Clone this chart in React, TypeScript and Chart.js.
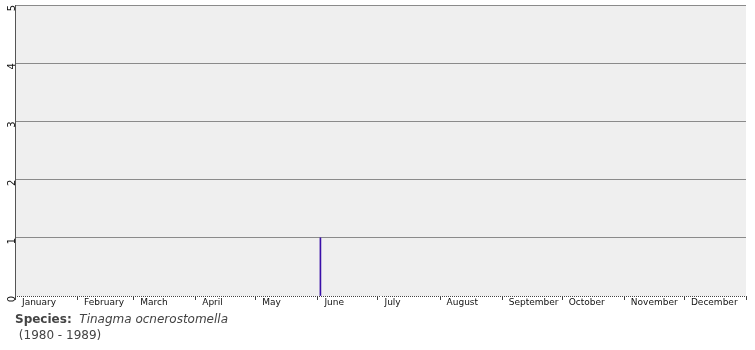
import React, { useEffect, useRef } from "react";
import { Chart, registerables } from "chart.js";

Chart.register(...registerables);

const monthNames = ["January", "February", "March", "April", "May", "June", "July", "August", "September", "October", "November", "December"];
const monthLengths = [31, 28, 31, 30, 31, 30, 31, 31, 30, 31, 30, 31];
// observation day-of-year (0-based) and counts
const observationDays = [152];
const observationCounts = [1];
const yTicks = [0, 1, 2, 3, 4, 5];
const speciesName = "Tinagma ocnerostomella";
const yearRange = "(1980 - 1989)";

const monthStarts: number[] = [];
{
  let acc = 0;
  for (const len of monthLengths) {
    monthStarts.push(acc);
    acc += len;
  }
}
const totalDays = monthLengths.reduce((a, b) => a + b, 0);

const bgPlugin = {
  id: "bgPlugin",
  beforeDraw(chart: any) {
    const { ctx, chartArea } = chart;
    ctx.save();
    ctx.fillStyle = "#efefef";
    ctx.fillRect(chartArea.left, chartArea.top, chartArea.right - chartArea.left, chartArea.bottom - chartArea.top);
    ctx.restore();
  },
  afterDraw(chart: any) {
    const { ctx, chartArea } = chart;
    const x = chart.scales.x;
    ctx.save();
    ctx.fillStyle = "#444";
    for (let d = 0; d <= totalDays; d++) {
      const px = Math.round(x.getPixelForValue(d));
      const isMonth = monthStarts.includes(d) || d === totalDays;
      ctx.fillRect(px, chartArea.bottom, 1, isMonth ? 4 : 1);
    }
    ctx.restore();
  },
};

export default function App() {
  const ref = useRef<HTMLCanvasElement | null>(null);
  useEffect(() => {
    document.body.style.margin = "0";
    const data = observationDays.map((d, i) => ({ x: d + 0.5, y: observationCounts[i] }));
    const chart = new Chart(ref.current!, {
      type: "bar",
      data: {
        datasets: [
          {
            data,
            backgroundColor: "#3a0fa8",
            borderWidth: 0,
            barThickness: 1,
          } as any,
        ],
      },
      options: {
        animation: false,
        responsive: false,
        maintainAspectRatio: false,
        layout: { padding: { left: 0, right: 9, top: 5, bottom: 0 } },
        plugins: { legend: { display: false }, tooltip: { enabled: false } },
        scales: {
          x: {
            type: "linear",
            min: 0,
            max: totalDays,
            offset: false,
            afterBuildTicks(scale: any) {
              scale.ticks = monthStarts.map((v) => ({ value: v }));
            },
            afterFit(scale: any) {
              scale.height = 54;
              scale.paddingLeft = 0;
              scale.paddingRight = 0;
            },
            ticks: {
              autoSkip: false,
              maxRotation: 0,
              minRotation: 0,
              align: "start",
              labelOffset: 7,
              padding: 1,
              color: "#111",
              font: { family: "DejaVu Sans", size: 9 },
              callback: (v: any) => {
                const i = monthStarts.indexOf(Number(v));
                return i >= 0 ? monthNames[i] : "";
              },
            },
            grid: { display: false, drawTicks: false, offset: false },
            border: { display: false },
          },
          y: {
            min: 0,
            max: 5,
            afterBuildTicks(scale: any) {
              scale.ticks = yTicks.map((v) => ({ value: v }));
            },
            afterFit(scale: any) {
              scale.width = 15;
              scale.paddingTop = 0;
              scale.paddingBottom = 0;
            },
            ticks: {
              minRotation: 90,
              maxRotation: 90,
              padding: 3,
              color: "#111",
              font: { family: "DejaVu Sans", size: 10 },
            },
            grid: {
              drawTicks: false,
              color: (c: any) => (c.tick && c.tick.value === 0 ? "rgba(0,0,0,0)" : "#8a8a8a"),
              lineWidth: 1,
            },
            border: { display: true, color: "#555", width: 1 },
          },
        },
      },
      plugins: [bgPlugin],
    } as any);
    return () => chart.destroy();
  }, []);

  return (
    <div style={{ position: "relative", width: 755, height: 350 }}>
      <canvas ref={ref} width={755} height={350} style={{ position: "absolute", left: 0, top: 0 }} />
      <div
        style={{
          position: "absolute",
          left: 15,
          top: 311,
          fontFamily: "DejaVu Sans, Verdana, sans-serif",
          fontSize: 12,
          color: "#444",
          lineHeight: "16px",
        }}
      >
        <div>
          <b>Species:</b>&nbsp;&nbsp;<i>{speciesName}</i>
        </div>
        <div>&nbsp;{yearRange}</div>
      </div>
    </div>
  );
}
